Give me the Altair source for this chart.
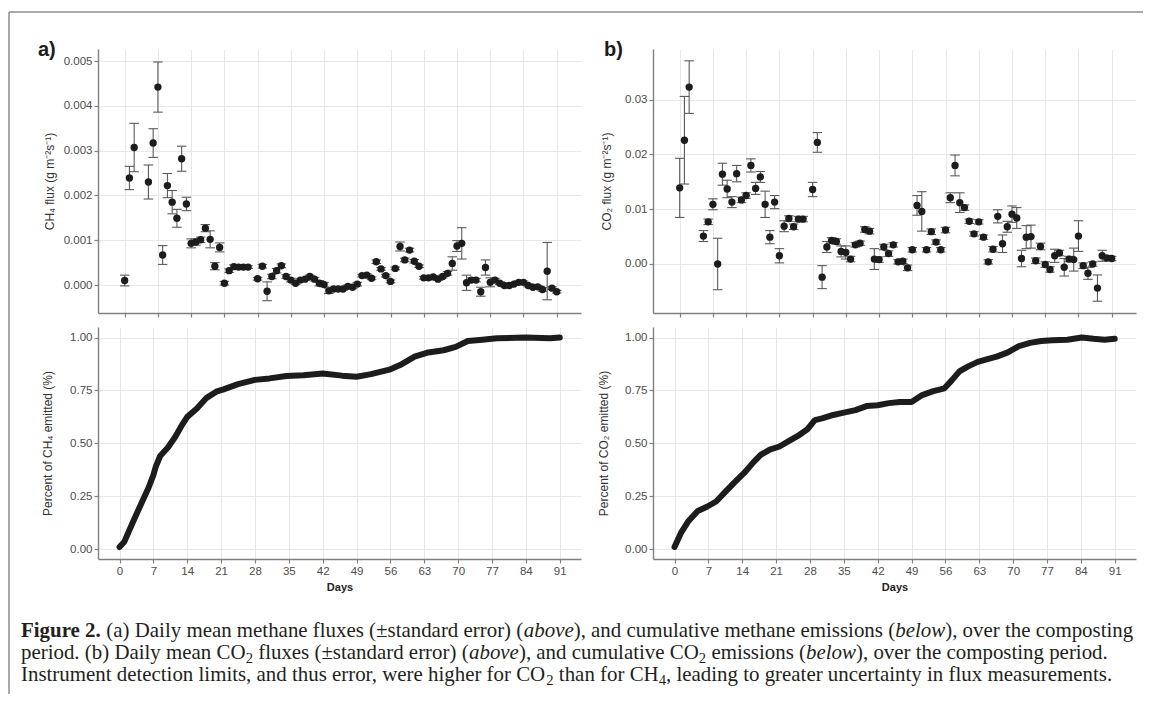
import altair as alt
import pandas as pd

x_ticks = [0, 7, 14, 21, 28, 35, 42, 49, 56, 63, 70, 77, 84, 91]

days_flux = [0, 1, 2, 5, 6, 7, 8, 9, 10, 11, 12, 13, 14, 15, 16, 17, 18, 19, 20,
             21, 22, 23, 24, 25, 26, 28, 29, 30, 31, 32, 33, 34, 35, 36, 37, 38,
             39, 40, 41, 42, 43, 44, 45, 46, 47, 48, 49, 50, 51, 52, 53, 54, 55,
             56, 57, 58, 59, 60, 61, 62, 63, 64, 65, 66, 67, 68, 69, 70, 71, 72,
             73, 74, 75, 76, 77, 78, 79, 80, 81, 82, 83, 84, 85, 86, 87, 88, 89,
             90, 91]

ch4_flux = [0.00010, 0.00239, 0.00307, 0.00230, 0.00317, 0.00442, 0.00067, 0.00222,
            0.00185, 0.00149, 0.00282, 0.00181, 0.00093, 0.00096, 0.00101, 0.00127,
            0.00102, 0.00042, 0.00084, 0.00004, 0.00032, 0.00041, 0.00040, 0.00040,
            0.00040, 0.00014, 0.00042, -0.00014, 0.00019, 0.00032, 0.00043, 0.00019,
            0.00011, 0.00004, 0.00011, 0.00013, 0.00019, 0.00013, 0.00004, 0.00001,
            -0.00013, -0.00009, -0.00009, -0.00009, -0.00003, -0.00005, 0.00002,
            0.00021, 0.00022, 0.00015, 0.00052, 0.00036, 0.00021, 0.00008, 0.00037,
            0.00086, 0.00056, 0.00078, 0.00053, 0.00042, 0.00016, 0.00016, 0.00018,
            0.00013, 0.00019, 0.00026, 0.00048, 0.00087, 0.00093, 0.00005, 0.00011,
            0.00011, -0.00015, 0.00039, 0.00006, 0.00011, 0.00004, -0.00001, -0.00001,
            0.00002, 0.00006, 0.00006, -0.00001, -0.00005, -0.00004, -0.00010, 0.00031,
            -0.00007, -0.00015]

ch4_se = [0.00012, 0.00026, 0.00054, 0.00038, 0.00032, 0.00056, 0.00021, 0.00027,
          0.00026, 0.00020, 0.00028, 0.00015, 0.00010, 0.00007, 0.00006, 0.00008,
          0.00019, 0.00008, 0.00010, 0.00004, 0.00004, 0.00004, 0.00003, 0.00003,
          0.00003, 0.00003, 0.00004, 0.00021, 0.00005, 0.00005, 0.00004, 0.00004,
          0.00004, 0.00003, 0.00003, 0.00003, 0.00003, 0.00004, 0.00006, 0.00005,
          0.00006, 0.00004, 0.00003, 0.00003, 0.00003, 0.00003, 0.00004, 0.00003,
          0.00003, 0.00003, 0.00004, 0.00003, 0.00003, 0.00003, 0.00003, 0.00010,
          0.00004, 0.00004, 0.00004, 0.00003, 0.00003, 0.00003, 0.00003, 0.00003,
          0.00003, 0.00004, 0.00015, 0.00012, 0.00035, 0.00017, 0.00005, 0.00004,
          0.00010, 0.00017, 0.00010, 0.00004, 0.00003, 0.00003, 0.00003, 0.00003,
          0.00003, 0.00003, 0.00003, 0.00003, 0.00003, 0.00004, 0.00064, 0.00003,
          0.00003]

co2_flux = [0.0139, 0.0226, 0.0323, 0.0051, 0.0077, 0.0109, 0.0000, 0.0164, 0.0137,
            0.0113, 0.0165, 0.0117, 0.0125, 0.0180, 0.0138, 0.0159, 0.0109, 0.0049,
            0.0113, 0.0015, 0.0069, 0.0083, 0.0068, 0.0082, 0.0082, 0.0136, 0.0222,
            -0.0024, 0.0031, 0.0043, 0.0041, 0.0023, 0.0021, 0.0009, 0.0035, 0.0038,
            0.0063, 0.0060, 0.0009, 0.0008, 0.0031, 0.0019, 0.0035, 0.0004, 0.0005,
            -0.0007, 0.0026, 0.0107, 0.0096, 0.0026, 0.0059, 0.0040, 0.0026, 0.0062,
            0.0121, 0.0180, 0.0112, 0.0103, 0.0078, 0.0055, 0.0077, 0.0049, 0.0004,
            0.0027, 0.0087, 0.0037, 0.0068, 0.0091, 0.0084, 0.0010, 0.0049, 0.0050,
            0.0006, 0.0032, -0.0001, -0.0010, 0.0015, 0.0020, -0.0006, 0.0009, 0.0008,
            0.0051, -0.0003, -0.0017, 0.0000, -0.0044, 0.0015, 0.0011, 0.0010]

co2_se = [0.0054, 0.0080, 0.0048, 0.0010, 0.0005, 0.0010, 0.0047, 0.0020, 0.0016,
          0.0010, 0.0015, 0.0005, 0.0005, 0.0012, 0.0011, 0.0010, 0.0024, 0.0012,
          0.0012, 0.0013, 0.0010, 0.0005, 0.0005, 0.0005, 0.0005, 0.0013, 0.0018,
          0.0021, 0.0010, 0.0005, 0.0005, 0.0010, 0.0012, 0.0005, 0.0004, 0.0004,
          0.0005, 0.0005, 0.0019, 0.0005, 0.0005, 0.0005, 0.0004, 0.0004, 0.0004,
          0.0005, 0.0004, 0.0018, 0.0036, 0.0004, 0.0005, 0.0004, 0.0004, 0.0005,
          0.0009, 0.0019, 0.0018, 0.0005, 0.0004, 0.0004, 0.0004, 0.0004, 0.0004,
          0.0005, 0.0012, 0.0016, 0.0010, 0.0015, 0.0019, 0.0015, 0.0021, 0.0021,
          0.0005, 0.0006, 0.0005, 0.0005, 0.0012, 0.0005, 0.0016, 0.0005, 0.0021,
          0.0028, 0.0005, 0.0011, 0.0004, 0.0024, 0.0010, 0.0004, 0.0004]

ch4_cum_days = [0, 1, 3, 5, 6, 7, 7.5, 8.4, 10, 11.5, 13, 14, 16, 18, 20, 21.5, 24.5,
                28, 31, 34.5, 38, 42, 46, 49, 52, 56, 58, 61, 63.5, 67, 69.5, 72, 75,
                78, 84, 89, 91]
ch4_cum = [0.01, 0.035, 0.14, 0.24, 0.29, 0.35, 0.39, 0.44, 0.48, 0.53, 0.59, 0.625,
           0.665, 0.715, 0.744, 0.755, 0.78, 0.80, 0.807, 0.818, 0.822, 0.83, 0.82,
           0.815, 0.827, 0.85, 0.87, 0.91, 0.928, 0.94, 0.956, 0.984, 0.99, 0.997,
           1.0, 0.997, 1.0]

co2_cum_days = [0, 1.3, 2.8, 4.8, 6.7, 8.6, 10.5, 12.4, 14.4, 16.3, 17.8, 19.7, 21.7,
                23.6, 25.5, 27.4, 29, 30.5, 32.8, 35, 37.4, 39.7, 42, 44.3, 46.6, 49,
                51.2, 53.5, 55.8, 57.4, 58.9, 60.8, 62.7, 64.7, 66.6, 68.9, 71.2, 73.5,
                75.8, 78.1, 81.2, 84.2, 86.6, 88.9, 91]
co2_cum = [0.01, 0.075, 0.13, 0.18, 0.20, 0.225, 0.27, 0.315, 0.36, 0.41, 0.445, 0.47,
           0.485, 0.51, 0.535, 0.565, 0.61, 0.618, 0.634, 0.645, 0.657, 0.676, 0.68,
           0.69, 0.695, 0.695, 0.728, 0.747, 0.76, 0.80, 0.84, 0.865, 0.885, 0.898,
           0.91, 0.93, 0.96, 0.975, 0.984, 0.987, 0.99, 1.0, 0.994, 0.99, 0.994]

caption_lines = [
    [("Figure 2.", "b"), (" (a) Daily mean methane fluxes (±standard error) (", "r"),
     ("above", "i"), ("), and cumulative methane emissions (", "r"), ("below", "i"),
     ("), over the composting", "r")],
    [("period. (b) Daily mean CO", "r"), ("2", "s"), (" fluxes (±standard error) (", "r"),
     ("above", "i"), ("), and cumulative CO", "r"), ("2", "s"), (" emissions (", "r"),
     ("below", "i"), ("), over the composting period.", "r")],
    [("Instrument detection limits, and thus error, were higher for CO", "r"), ("2", "s"),
     (" than for CH", "r"), ("4", "s"), (", leading to greater uncertainty in flux measurements.", "r")],
]

# ---------------- styling -----------------
INK = "#1c1c1c"
ERR = "#5a5a5a"
PW = 483
TOP_H = 264
BOT_H = 232
ROW_GAP = 14
TOP_XDOM = [-5.62, 96.12]
BOT_XDOM = [-4.45, 95.4]


def flux_panel(days, flux, se, ydom, yvals, yfmt, ytitle, title_x, label, label_x):
    df = pd.DataFrame({"day": days, "flux": flux, "se": se})
    base = alt.Chart(df).transform_calculate(
        lo="datum.flux - datum.se", hi="datum.flux + datum.se",
        dl="datum.day - 1", dr="datum.day + 1")
    xs = alt.Scale(domain=TOP_XDOM, nice=False, zero=False)
    ys = alt.Scale(domain=ydom, nice=False, zero=False)
    xax = alt.Axis(values=x_ticks, labels=False, title=None, grid=True)
    yax = alt.Axis(values=yvals, format=yfmt, title=ytitle, titleX=title_x,
                   titleY=TOP_H / 2, titleAngle=270, titleAlign="center",
                   titleBaseline="middle", grid=True)
    err = base.mark_rule(color=ERR, strokeWidth=1.1).encode(
        x=alt.X("day:Q", scale=xs, axis=xax),
        y=alt.Y("lo:Q", scale=ys, axis=yax), y2="hi:Q")
    cap_hi = base.mark_rule(color=ERR, strokeWidth=1.1).encode(
        x=alt.X("dl:Q", scale=xs, axis=xax), x2="dr:Q",
        y=alt.Y("hi:Q", scale=ys, axis=yax))
    cap_lo = base.mark_rule(color=ERR, strokeWidth=1.1).encode(
        x=alt.X("dl:Q", scale=xs, axis=xax), x2="dr:Q",
        y=alt.Y("lo:Q", scale=ys, axis=yax))
    pts = base.mark_circle(size=54, color=INK, opacity=1).encode(
        x=alt.X("day:Q", scale=xs, axis=xax),
        y=alt.Y("flux:Q", scale=ys, axis=yax))
    lab = alt.Chart(pd.DataFrame({"t": [label]})).mark_text(
        align="left", baseline="alphabetic", font="Liberation Sans",
        fontSize=20, fontWeight="bold", color=INK).encode(
        text="t:N", x=alt.value(label_x), y=alt.value(7))
    return alt.layer(err, cap_hi, cap_lo, pts, lab).properties(width=PW, height=TOP_H)


def cum_panel(days, cum, ytitle, title_x):
    df = pd.DataFrame({"day": days, "cum": cum})
    return alt.Chart(df).mark_line(
        color=INK, strokeWidth=6, strokeJoin="round", strokeCap="round").encode(
        x=alt.X("day:Q", scale=alt.Scale(domain=BOT_XDOM, nice=False, zero=False),
                axis=alt.Axis(values=x_ticks, title="Days", titleFontWeight="bold",
                              titleFontSize=11, titleColor="#222222", titleY=28,
                              titleBaseline="middle", grid=True)),
        y=alt.Y("cum:Q", scale=alt.Scale(domain=[-0.047, 1.05], nice=False, zero=False),
                axis=alt.Axis(values=[0, 0.25, 0.5, 0.75, 1.0], format=".2f",
                              title=ytitle, titleX=title_x, titleY=BOT_H / 2,
                              titleAngle=270, titleAlign="center",
                              titleBaseline="middle", grid=True)),
    ).properties(width=PW, height=BOT_H)


tl = flux_panel(days_flux, ch4_flux, ch4_se, [-0.000625, 0.00527],
                [0, 0.001, 0.002, 0.003, 0.004, 0.005], ".3f",
                "CH\u2084  flux (g m\u207b\u00b2s\u207b\u00b9)", -49, "a)", -60)
tr = flux_panel(days_flux, co2_flux, co2_se, [-0.00895, 0.03926],
                [0, 0.01, 0.02, 0.03], ".2f",
                "CO\u2082  flux (g m\u207b\u00b2s\u207b\u00b9)", -47, "b)", -49)
bl = cum_panel(ch4_cum_days, ch4_cum, "Percent of CH\u2084 emitted (%)", -51)
br = cum_panel(co2_cum_days, co2_cum, "Percent of CO\u2082 emitted (%)", -50)

# ---------------- caption -----------------
FS = 20.9
SUB = 0.7
W_R = {" ": 250, "(": 333, ")": 333, ",": 250, ".": 250, "\u00b1": 564,
       "A": 722, "B": 667, "C": 667, "D": 722, "E": 611, "F": 556, "G": 722, "H": 722,
       "I": 333, "J": 389, "K": 722, "L": 611, "M": 889, "N": 722, "O": 722, "P": 556,
       "Q": 722, "R": 667, "S": 556, "T": 611, "U": 722, "V": 722, "W": 944, "X": 722,
       "Y": 722, "Z": 611, "a": 444, "b": 500, "c": 444, "d": 500, "e": 444, "f": 333,
       "g": 500, "h": 500, "i": 278, "j": 278, "k": 500, "l": 278, "m": 778, "n": 500,
       "o": 500, "p": 500, "q": 500, "r": 333, "s": 389, "t": 278, "u": 500, "v": 500,
       "w": 722, "x": 500, "y": 500, "z": 444}
W_B = {"F": 611, "i": 278, "g": 500, "u": 556, "r": 444, "e": 444, " ": 250, ".": 250}
W_I = {"a": 500, "b": 500, "o": 500, "v": 444, "e": 444, "l": 278, "w": 667}


def seg_width(t, style):
    if style == "s":
        return sum(500 for _ in t) * FS * SUB / 1000
    table = {"r": W_R, "b": W_B, "i": W_I}[style]
    return sum(table.get(c, W_R.get(c, 500)) for c in t) * FS / 1000


# caption cell origin sits at the plot-left of the first column, ROW_GAP below the bottom panels
CAP_X0 = -77
CAP_Y0 = 64
CAP_LH = 22
rows = []
for li, line in enumerate(caption_lines):
    cx = CAP_X0
    for t, style in line:
        lead = len(t) - len(t.lstrip(" "))
        xpos = cx + seg_width(" " * lead, "r")
        rows.append({"text": t.strip(" "), "x": xpos, "y": CAP_Y0 + li * CAP_LH, "style": style})
        cx += seg_width(t, style)
cap_df = pd.DataFrame(rows)

styles = {
    "r": dict(fontSize=FS, fontWeight="normal", fontStyle="normal", dy=0),
    "b": dict(fontSize=FS, fontWeight="bold", fontStyle="normal", dy=0),
    "i": dict(fontSize=FS, fontWeight="normal", fontStyle="italic", dy=0),
    "s": dict(fontSize=FS * SUB, fontWeight="normal", fontStyle="normal", dy=4),
}
cap_layers = []
for st, kw in styles.items():
    cap_layers.append(
        alt.Chart(cap_df).transform_filter(f"datum.style == '{st}'").mark_text(
            align="left", baseline="alphabetic", font="Liberation Serif",
            color="#231f20", **kw).encode(
            x=alt.X("x:Q", scale=None, axis=None),
            y=alt.Y("y:Q", scale=None, axis=None),
            text="text:N"))

one = pd.DataFrame({"a": [0]})
frame_v = alt.Chart(one).mark_rule(color="#8c8c8c", strokeWidth=1.5).encode(
    x=alt.value(-89), y=alt.value(-561), y2=alt.value(121))
frame_h = alt.Chart(one).mark_rule(color="#8c8c8c", strokeWidth=1.5).encode(
    x=alt.value(-89), x2=alt.value(1045), y=alt.value(-561))

caption = alt.layer(frame_v, frame_h, *cap_layers).properties(width=PW, height=100)

chart = alt.concat(tl, tr, bl, br, caption, columns=2,
                   spacing={"row": ROW_GAP, "column": 72},
                   align="each", bounds="flush").properties(
    padding={"left": 0, "top": 3, "right": 0, "bottom": 0}
).configure_axis(
    labelFont="Liberation Sans", labelFontSize=11.5, labelColor="#4d4d4d",
    domainColor="#808080", domainWidth=1.4, tickColor="#808080", tickWidth=1.2,
    tickSize=4, labelPadding=2, gridColor="#e8e8e8", gridWidth=1,
    titleFont="Liberation Sans", titleFontSize=12, titleFontWeight="normal",
    titleColor="#333333"
).configure_view(stroke=None)

chart.save("out.html", embed_options={"renderer": "svg", "actions": False})
